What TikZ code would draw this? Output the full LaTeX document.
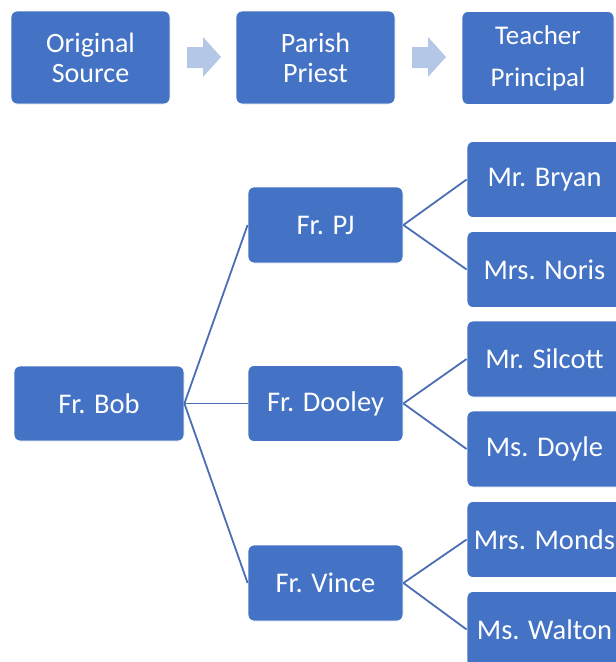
\documentclass[tikz,border=0pt]{standalone}
\usepackage{fontspec}
\setmainfont{Carlito}
\begin{document}
\definecolor{boxblue}{HTML}{4472C4}
\definecolor{arrowblue}{HTML}{B4C7E7}
\definecolor{linkblue}{HTML}{4A6DB4}
\begin{tikzpicture}[x=1pt,y=-1pt,
  card/.style={rectangle, rounded corners=6pt, fill=boxblue, draw=white,
    line width=0.8pt, text=white, align=center, inner sep=0pt},
  headbox/.style={card, minimum width=159pt, minimum height=93pt,
    font=\fontsize{28}{30}\selectfont},
  rootbox/.style={card, minimum width=170pt, minimum height=75pt,
    font=\fontsize{28.5}{31}\selectfont},
  midbox/.style={card, minimum width=155pt, minimum height=76pt,
    font=\fontsize{28.5}{31}\selectfont},
  leafbox/.style={card, minimum width=155pt, minimum height=76pt,
    font=\fontsize{28.5}{31}\selectfont},
  link/.style={draw=linkblue, line width=1.8pt},
  flowarrow/.style={fill=arrowblue, draw=none}
]
\useasboundingbox (0,0) rectangle (616,662);
\clip (0,0) rectangle (616,662);

% header row
\node[headbox] (src) at (90.5,57.5) {Original\\Source};
\node[headbox] (pp) at (315.5,57.5) {Parish\\Priest};
\node[headbox, minimum width=152pt, font=\fontsize{27}{42}\selectfont]
  (tp) at (538,58) {Teacher\\Principal};

% block arrows between header boxes
\fill[flowarrow] (187,47) -- (203,47) -- (203,37) -- (221,57) -- (203,77)
  -- (203,68) -- (187,68) -- cycle;
\fill[flowarrow] (412,47) -- (428,47) -- (428,37) -- (446,57) -- (428,77)
  -- (428,68) -- (412,68) -- cycle;

% tree
\node[rootbox] (bob) at (99,403.5) {Fr. Bob};
\node[midbox] (pj) at (325.5,225) {Fr. PJ};
\node[midbox] (dooley) at (325.5,403.5) {Fr. Dooley};
\node[midbox] (vince) at (325.5,583) {Fr. Vince};

\node[leafbox] (bryan) at (544.5,179.5) {Mr. Bryan};
\node[leafbox] (noris) at (544.5,269.5) {Mrs. Noris};
\node[leafbox] (silcott) at (544.5,359) {Mr. Silcott};
\node[leafbox] (doyle) at (544.5,449) {Ms. Doyle};
\node[leafbox] (monds) at (544.5,539.5) {Mrs. Monds};
\node[leafbox] (walton) at (544.5,629.5) {Ms. Walton};

% connectors
\draw[link] (bob.east) -- (pj.west);
\draw[link] (bob.east) -- (dooley.west);
\draw[link] (bob.east) -- (vince.west);
\draw[link] (pj.east) -- (bryan.west);
\draw[link] (pj.east) -- (noris.west);
\draw[link] (dooley.east) -- (silcott.west);
\draw[link] (dooley.east) -- (doyle.west);
\draw[link] (vince.east) -- (monds.west);
\draw[link] (vince.east) -- (walton.west);
\end{tikzpicture}
\end{document}
